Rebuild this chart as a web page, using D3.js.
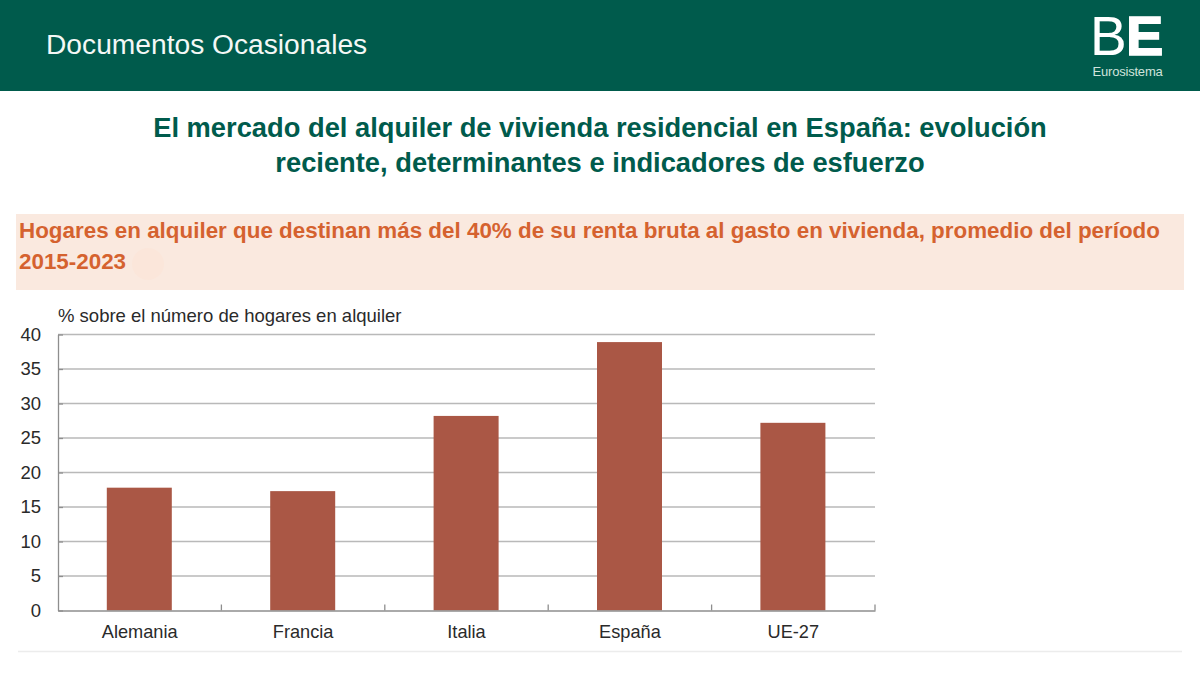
<!DOCTYPE html>
<html lang="es">
<head>
<meta charset="utf-8">
<script src="https://cdn.jsdelivr.net/npm/d3@7/dist/d3.min.js"></script>
<style>
html,body{margin:0;padding:0;background:#fff;}
svg{display:block;}
text{font-family:"Liberation Sans",Arial,sans-serif;}
</style>
</head>
<body>
<svg id="chart" width="1200" height="675"></svg>
<script>
const categories = ["Alemania","Francia","Italia","España","UE-27"];
const values = [17.8,17.3,28.2,38.9,27.2];
const yTicks = [0,5,10,15,20,25,30,35,40];
const headerTitle = "Documentos Ocasionales";
const titleLines = ["El mercado del alquiler de vivienda residencial en España: evolución","reciente, determinantes e indicadores de esfuerzo"];
const subtitleLines = ["Hogares en alquiler que destinan más del 40% de su renta bruta al gasto en vivienda, promedio del período","2015-2023"];
const unitLabel = "% sobre el número de hogares en alquiler";

const svg = d3.select("#chart");
svg.append("rect").attr("width",1200).attr("height",91).attr("fill","#005b4c");
svg.append("text").attr("x",46).attr("y",54).attr("font-size",28.2).attr("fill","#f4f8f6").text(headerTitle);

// logo
svg.append("text").attr("x",1090).attr("y",55).attr("font-size",55).attr("font-family","Inter").attr("font-weight",100).attr("fill","#fff").text("B");
svg.append("text").attr("x",1126).attr("y",55).attr("font-size",56).attr("font-weight",700).attr("fill","#fff").attr("stroke","#fff").attr("stroke-width",1.5).text("E");
svg.append("text").attr("x",1092.5).attr("y",75.5).attr("font-size",13).attr("letter-spacing",-0.2).attr("fill","#cfe3dc").text("Eurosistema");

svg.selectAll("text.title").data(titleLines).join("text").attr("class","title")
  .attr("x",600).attr("y",(d,i)=>137+i*34.5).attr("text-anchor","middle")
  .attr("font-size",27.3).attr("font-weight",700).attr("fill","#005b4c").text(d=>d);

svg.append("rect").attr("x",16).attr("y",214).attr("width",1168).attr("height",76).attr("fill","#fae9df");
svg.append("circle").attr("cx",148).attr("cy",264).attr("r",16).attr("fill","#fbe6da");
svg.selectAll("text.sub").data(subtitleLines).join("text").attr("class","sub")
  .attr("x",19).attr("y",(d,i)=>238+i*31).attr("font-size",22.4).attr("font-weight",700).attr("fill","#d5622f").text(d=>d);

const x = d3.scaleBand().domain(categories).range([58,875]);
const y = d3.scaleLinear().domain([0,40]).range([610.5,334.5]);
const barW = 65;

// gridlines
svg.append("g").selectAll("line").data(yTicks.filter(d=>d>0)).join("line")
  .attr("x1",58).attr("x2",875).attr("y1",d=>y(d)).attr("y2",d=>y(d))
  .attr("stroke","#b9b9b9").attr("stroke-width",1.7);

// bars
svg.append("g").selectAll("rect").data(values).join("rect")
  .attr("x",(d,i)=>x(categories[i])+x.bandwidth()/2-barW/2-0.4)
  .attr("width",barW)
  .attr("y",d=>y(d))
  .attr("height",d=>y(0)-y(d))
  .attr("fill","#aa5745");

// y axis
const gy = svg.append("g").attr("transform","translate(58,0)")
  .call(d3.axisLeft(y).tickValues(yTicks).tickSize(0).tickPadding(17));
gy.select(".domain").attr("stroke","#8e8e8e").attr("stroke-width",1.3);
gy.selectAll("text").attr("font-size",18.5).attr("fill","#2a2a2a").attr("font-family","Liberation Sans");
gy.selectAll(".tick").append("line").attr("x1",0).attr("x2",5).attr("stroke","#8e8e8e").attr("stroke-width",1.3);

// x axis: ticks on the band boundaries, pointing up
const gx = svg.append("g").attr("transform",`translate(0,${y(0)})`)
  .call(d3.axisBottom(x).tickSize(0).tickPadding(15));
gx.select(".domain").attr("stroke","#8e8e8e").attr("stroke-width",1.3);
gx.selectAll("text").attr("font-size",18.2).attr("fill","#2a2a2a").attr("font-family","Liberation Sans");
gx.append("g").selectAll("line").data(categories.map(c=>x(c)+x.bandwidth())).join("line")
  .attr("x1",d=>d).attr("x2",d=>d).attr("y1",0).attr("y2",-6)
  .attr("stroke","#8e8e8e").attr("stroke-width",1.3);

svg.append("text").attr("x",58).attr("y",321.5).attr("font-size",18.5).attr("fill","#2a2a2a").text(unitLabel);
svg.append("line").attr("x1",18).attr("x2",1182).attr("y1",651.5).attr("y2",651.5).attr("stroke","#ececec").attr("stroke-width",1.3);
</script>
</body>
</html>
